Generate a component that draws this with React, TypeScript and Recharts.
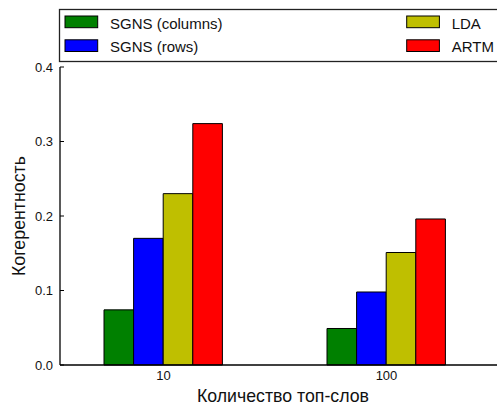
import { BarChart, Bar, XAxis, YAxis, Label } from 'recharts';

const categories = ['10', '100'];
const sgnsColumns = [0.074, 0.049];
const sgnsRows = [0.17, 0.098];
const lda = [0.23, 0.151];
const artm = [0.324, 0.196];
const yTicks = [0, 0.1, 0.2, 0.3, 0.4];

const seriesKeys = ['sgnsColumns', 'sgnsRows', 'lda', 'artm'];
const seriesNames = ['SGNS (columns)', 'SGNS (rows)', 'LDA', 'ARTM'];
const seriesColors = ['#008000', '#0000ff', '#bfbf00', '#ff0000'];
const seriesValues = [sgnsColumns, sgnsRows, lda, artm];

const data = categories.map((label, i) => {
  const row: Record<string, string | number> = { label };
  seriesKeys.forEach((k, j) => {
    row[k] = seriesValues[j][i];
  });
  return row;
});

// no serif face is available in the sandbox, so use a metric-known sans
const FONT = "'Liberation Sans', Arial, sans-serif";
const INK = '#111';

function YTick({ x, y, payload }: any) {
  const ax = x + 7;
  return (
    <g>
      <line x1={ax} x2={ax + 4} y1={y} y2={y} stroke="#000" strokeWidth={1} />
      <text x={x} y={y} dy={4.5} textAnchor="end" fontSize={13} fill={INK} style={{ fontFamily: FONT }}>
        {Number(payload.value).toFixed(1)}
      </text>
    </g>
  );
}

function XTick({ x, y, payload }: any) {
  return (
    <text x={x} y={y + 15} textAnchor="middle" fontSize={13} fill={INK} style={{ fontFamily: FONT }}>
      {payload.value}
    </text>
  );
}

// top spine: only inward tick marks, no labels
function TopTick({ x, y }: any) {
  return <line x1={x} x2={x} y1={y} y2={y + 4} stroke="#000" strokeWidth={1} />;
}

function Legend() {
  return (
    <svg
      width={497}
      height={70}
      style={{ position: 'absolute', left: 0, top: 0, pointerEvents: 'none' }}
    >
      <rect x={59.5} y={9.5} width={460} height={52} fill="#fff" stroke="#222" strokeWidth={1.3} />
      {seriesNames.map((name, i) => {
        const col = Math.floor(i / 2);
        const row = i % 2;
        const px = 65 + col * 341.7;
        const py = 16 + row * 23.8;
        return (
          <g key={name}>
            <rect x={px} y={py} width={32.7} height={11.7} fill={seriesColors[i]} stroke="#000" strokeWidth={1} />
            <text x={px + 45} y={py + 12.6} fontSize={15} fill={INK} style={{ fontFamily: FONT }}>
              {name}
            </text>
          </g>
        );
      })}
    </svg>
  );
}

export default function App() {
  return (
    <div
      style={{
        position: 'absolute',
        left: 0,
        top: 0,
        width: 497,
        height: 408,
        overflow: 'hidden',
        background: '#fff',
        fontFamily: FONT,
      }}
    >
      <BarChart
        width={506}
        height={408}
        data={data}
        margin={{ top: 67, right: 0, bottom: 0, left: 0 }}
        barGap={0}
        barSize={29.6}
        style={{ fontFamily: FONT }}
      >
        <XAxis
          xAxisId="main"
          dataKey="label"
          height={43}
          padding={{ left: -8, right: 8 }}
          axisLine={{ stroke: '#000', strokeWidth: 1.3 }}
          tickLine={false}
          tickSize={0}
          tickMargin={0}
          tick={<XTick />}
          interval={0}
        >
          <Label
            content={({ viewBox }: any) => (
              <text
                x={viewBox.x + viewBox.width / 2}
                y={viewBox.y + 37.4}
                textAnchor="middle"
                fontSize={17.8}
                textLength={172}
                lengthAdjust="spacingAndGlyphs"
                fill={INK}
                style={{ fontFamily: FONT }}
              >
                Количество топ-слов
              </text>
            )}
          />
        </XAxis>
        <XAxis
          xAxisId="top"
          orientation="top"
          dataKey="label"
          height={0}
          padding={{ left: -8, right: 8 }}
          axisLine={{ stroke: '#000', strokeWidth: 1.3 }}
          tickLine={false}
          tickSize={0}
          tickMargin={0}
          tick={<TopTick />}
          interval={0}
        />
        <YAxis
          type="number"
          width={60}
          domain={[0, 0.4]}
          ticks={yTicks}
          interval={0}
          axisLine={{ stroke: '#000', strokeWidth: 1.3 }}
          tickLine={false}
          tickSize={0}
          tickMargin={7}
          tick={<YTick />}
        >
          <Label
            content={({ viewBox }: any) => {
              const cx = 25;
              const cy = viewBox.y + viewBox.height / 2;
              return (
                <text
                  x={cx}
                  y={cy}
                  transform={`rotate(-90, ${cx}, ${cy})`}
                  textAnchor="middle"
                  fontSize={17.8}
                  textLength={120}
                  lengthAdjust="spacingAndGlyphs"
                  fill={INK}
                  style={{ fontFamily: FONT }}
                >
                  Когерентность
                </text>
              );
            }}
          />
        </YAxis>
        {seriesKeys.map((k, i) => (
          <Bar
            key={k}
            xAxisId="main"
            dataKey={k}
            name={seriesNames[i]}
            fill={seriesColors[i]}
            stroke="#000"
            strokeWidth={1}
            isAnimationActive={false}
          />
        ))}
      </BarChart>
      <Legend />
    </div>
  );
}
